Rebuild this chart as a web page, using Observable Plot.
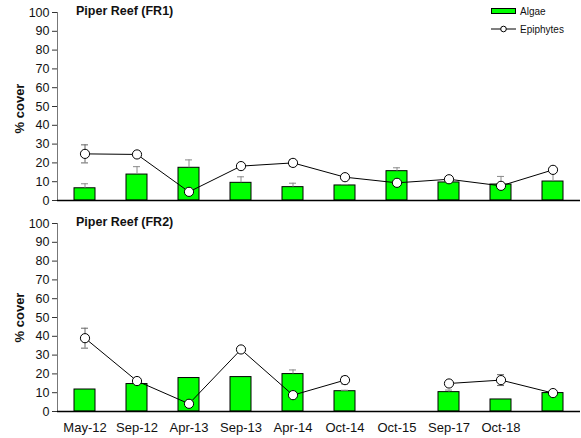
<!DOCTYPE html>
<html>
<head>
<meta charset="utf-8">
<script src="https://cdn.jsdelivr.net/npm/d3@7"></script>
<script src="https://cdn.jsdelivr.net/npm/@observablehq/plot@0.6"></script>
<style>
  html, body { margin: 0; padding: 0; background: #fff; }
  #wrap { position: relative; width: 581px; height: 438px; font-family: "Liberation Sans", Arial, sans-serif; color: #111; }
  .panel { position: absolute; left: 0; }
  .title { position: absolute; font-weight: bold; font-size: 12.5px; white-space: nowrap; }
  .ylab { position: absolute; font-weight: bold; font-size: 13px; transform: rotate(-90deg); transform-origin: center center; white-space: nowrap; }
  .legend { position: absolute; left: 491px; top: 2px; font-size: 10px; }
  .legend div { height: 18px; display: flex; align-items: center; }
</style>
</head>
<body>
<div id="wrap">
  <div id="top" class="panel" style="top:0px"></div>
  <div id="bottom" class="panel" style="top:211px"></div>
  <div class="title" style="left:76px; top:4px;">Piper Reef (FR1)</div>
  <div class="title" style="left:76px; top:215px;">Piper Reef (FR2)</div>
  <div class="ylab" style="left:-5px; top:101px;">% cover</div>
  <div class="ylab" style="left:-5px; top:310px;">% cover</div>
  <div class="legend">
    <div><svg width="29" height="10"><rect x="0.5" y="2.5" width="24" height="5" fill="#00ff00" stroke="#000"/></svg>Algae</div>
    <div><svg width="29" height="10"><line x1="0" x2="25" y1="5" y2="5" stroke="#000"/><circle cx="12.5" cy="5" r="2.8" fill="#fff" stroke="#000"/></svg>Epiphytes</div>
  </div>
</div>
<script>
const categories = ["May-12","Sep-12","Apr-13","Sep-13","Apr-14","Oct-14","Oct-15","Sep-17","Oct-18","C10"];
const tickLabels = ["May-12","Sep-12","Apr-13","Sep-13","Apr-14","Oct-14","Oct-15","Sep-17","Oct-18",""];
const yTicks = [0,10,20,30,40,50,60,70,80,90,100];

const fr1Algae   = [6.5, 13.8, 17.4, 9.4, 7.1, 8.0, 15.6, 9.6, 8.5, 10.1];
const fr1AlgaeSE = [2.4, 4.2, 4.2, 3.2, 2.1, 0.5, 1.8, 0, 4.3, 5.5];
const fr1Epi     = [24.8, 24.5, 4.6, 18.3, 20.0, 12.4, 9.4, 11.3, 7.8, 16.3];
const fr1EpiSE   = [4.8, 1.2, 0.5, 0.8, 1.8, 0.8, 0.5, 0.8, 0.8, 0.8];

const fr2Algae   = [11.7, 14.6, 17.8, 18.3, 19.9, 10.8, null, 10.3, 6.4, 9.8];
const fr2AlgaeSE = [0, 0, 0, 0, 2.2, 0.5, null, 1.1, 0, 0];
const fr2Epi     = [39.0, 16.2, 4.1, 33.0, 8.7, 16.7, null, 14.9, 16.7, 9.8];
const fr2EpiSE   = [5.3, 0.8, 0.5, 1.5, 0.8, 2.0, null, 0.8, 2.9, 0.8];

function build(algae, algaeSE, epi, epiSE) {
  return categories.map((c, i) => ({
    cat: c, algae: algae[i], algaeSE: algaeSE[i], epi: epi[i], epiSE: epiSE[i]
  }));
}

function panel(data, {height, marginTop, marginBottom, showX}) {
  const aErr = data.filter(d => d.algae != null && d.algaeSE > 0);
  const eErr = data.filter(d => d.epi != null && d.epiSE > 0);
  return Plot.plot({
    width: 581,
    height,
    marginLeft: 57,
    marginRight: 1,
    marginTop,
    marginBottom,
    style: {fontFamily: "Liberation Sans, Arial, sans-serif", fontSize: "12.5px", color: "#111", background: "#fff", overflow: "visible"},
    x: {domain: categories, paddingInner: 0.6, paddingOuter: 0.3, axis: null},
    y: {domain: [0, 100], axis: null},
    marks: [
      Plot.barY(data.filter(d => d.algae != null), {x: "cat", y: "algae", fill: "#00ff00", stroke: "#000", strokeWidth: 1}),
      Plot.ruleX(aErr, {x: "cat", y1: "algae", y2: d => d.algae + d.algaeSE, stroke: "#8a8a8a", strokeWidth: 1}),
      Plot.tickY(aErr, {x: "cat", y: d => d.algae + d.algaeSE, stroke: "#8a8a8a", strokeWidth: 1, insetLeft: 7, insetRight: 7}),
      Plot.lineY(data, {x: "cat", y: "epi", stroke: "#000", strokeWidth: 1}),
      Plot.ruleX(eErr, {x: "cat", y1: d => d.epi - d.epiSE, y2: d => d.epi + d.epiSE, stroke: "#666", strokeWidth: 1}),
      Plot.tickY(eErr, {x: "cat", y: d => d.epi + d.epiSE, stroke: "#666", strokeWidth: 1, insetLeft: 7, insetRight: 7}),
      Plot.tickY(eErr, {x: "cat", y: d => d.epi - d.epiSE, stroke: "#666", strokeWidth: 1, insetLeft: 7, insetRight: 7}),
      Plot.dot(data.filter(d => d.epi != null), {x: "cat", y: "epi", r: 4.6, fill: "#fff", stroke: "#000", strokeWidth: 1}),
      Plot.axisY({ticks: yTicks, tickSize: 5, tickPadding: 3, label: null, fontSize: 12.5, stroke: "#333"}),
      Plot.frame({anchor: "left", stroke: "#777"}),
      Plot.ruleY([0], {stroke: "#000", strokeWidth: 1.5}),
      ...(showX ? [Plot.axisX({tickSize: 0, tickPadding: 11, label: null, fontSize: 13, tickFormat: (d) => tickLabels[categories.indexOf(d)]})] : [])
    ]
  });
}

document.getElementById("top").append(
  panel(build(fr1Algae, fr1AlgaeSE, fr1Epi, fr1EpiSE), {height: 211, marginTop: 12, marginBottom: 11, showX: false})
);
document.getElementById("bottom").append(
  panel(build(fr2Algae, fr2AlgaeSE, fr2Epi, fr2EpiSE), {height: 227, marginTop: 12, marginBottom: 27, showX: true})
);
</script>
</body>
</html>
